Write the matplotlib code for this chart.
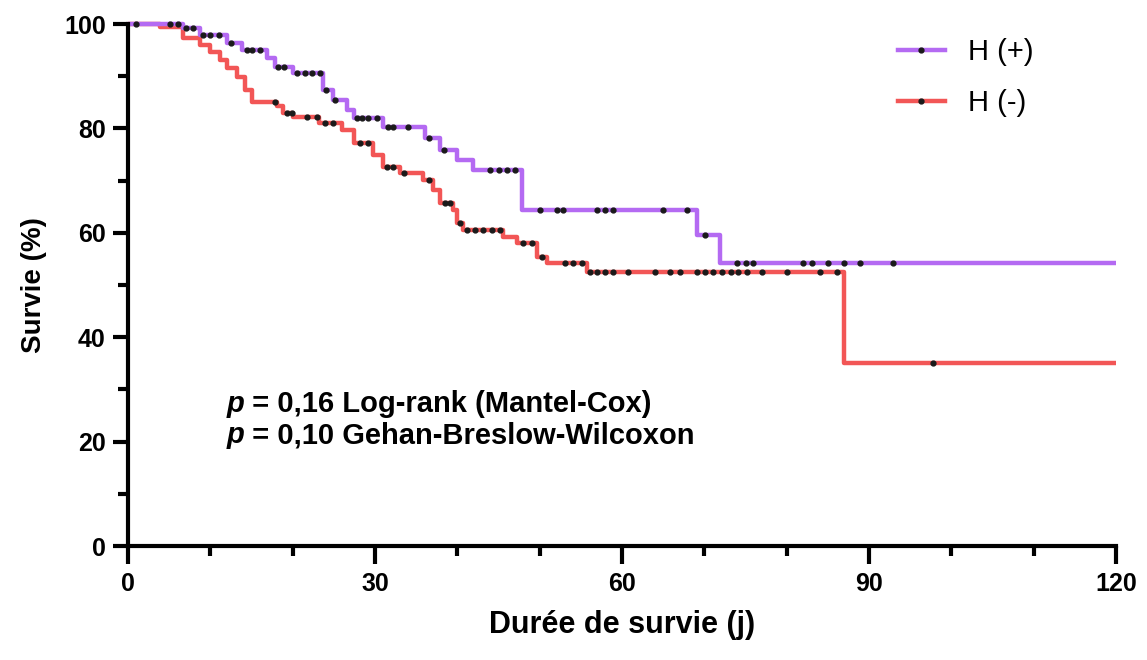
import matplotlib.pyplot as plt
from matplotlib.lines import Line2D
from matplotlib.ticker import MultipleLocator
import numpy as np

# Kaplan-Meier steps
pos_times = [0, 6.7, 8.7, 12.0, 13.9, 16.9, 17.9, 20.1, 23.7, 24.9, 26.6, 27.4,
             31.0, 36.1, 37.9, 39.9, 41.9, 47.9, 69.1, 71.9, 120]
pos_surv = [100, 99.2, 97.9, 96.3, 95.0, 93.4, 91.8, 90.6, 87.4, 85.4, 83.5, 82.0,
            80.2, 78.1, 75.9, 73.9, 72.0, 64.4, 59.6, 54.2, 54.2]
pos_censor = [1, 5.1, 6.1, 7.1, 7.9, 9.1, 10.0, 11.0, 12.5, 14.5, 15.1, 16.0,
              18.2, 19.0, 20.5, 21.5, 22.4, 23.3, 24.1, 25.1, 27.8, 28.4, 29.2,
              30.2, 31.6, 32.2, 34.0, 36.5, 38.4, 44.0, 45.0, 46.0, 47.0,
              50.0, 52.1, 52.8, 57.0, 57.9, 58.9, 65.0, 67.9, 70.1,
              74.0, 75.0, 75.9, 82.0, 83.1, 85.0, 86.9, 88.9, 92.9]

neg_times = [0, 3.9, 6.7, 8.7, 10.0, 11.2, 12.0, 13.2, 14.2, 15.0, 18.1, 18.8,
             20.1, 23.2, 26.0, 27.4, 29.8, 31.0, 33.0, 35.8, 37.0, 37.9, 39.5,
             40.0, 40.7, 45.5, 47.2, 49.7, 50.9, 55.7, 86.9, 120]
neg_surv = [100, 99.5, 97.3, 96.0, 94.7, 93.1, 91.6, 89.9, 87.4, 85.1, 84.2, 82.9,
            82.1, 81.0, 79.7, 77.2, 74.9, 72.6, 71.4, 70.1, 68.2, 65.7, 64.4,
            61.9, 60.5, 59.2, 58.0, 55.4, 54.2, 52.5, 35.1, 35.1]
neg_censor = [17.9, 19.3, 19.9, 21.7, 22.9, 23.9, 24.9, 28.2, 29.2, 31.5, 32.2,
              33.5, 36.5, 38.5, 39.1, 40.3, 41.2, 42.1, 43.1, 44.2, 45.2, 48.0,
              49.1, 50.3, 53.1, 54.1, 55.1, 56.1, 57.0, 57.9, 58.9, 60.7, 64.0,
              65.8, 67.0, 69.1, 70.1, 71.1, 72.2, 73.2, 74.1, 75.2, 77.0, 80.0,
              84.0, 86.1, 97.8]

labels = ["H (+)", "H (-)"]
stats_text = [" = 0,16 Log-rank (Mantel-Cox)", " = 0,10 Gehan-Breslow-Wilcoxon"]
purple = "#B46AF2"
red = "#F25656"


def surv_at(times, surv, t):
    idx = np.searchsorted(times, t, side="right") - 1
    return np.array(surv)[idx]


plt.rcParams['font.family'] = ['Liberation Sans', 'DejaVu Sans']

fig = plt.figure(figsize=(11.47, 6.60), dpi=100)
ax = fig.add_axes([0.1116, 0.1727, 0.8614, 0.7909])

# red first so the purple curve sits on top
for times, surv, cens, col in [(neg_times, neg_surv, neg_censor, red),
                               (pos_times, pos_surv, pos_censor, purple)]:
    ax.step(times, surv, where="post", color=col, lw=3.2, solid_capstyle="butt",
            clip_on=False)
    ax.plot(cens, surv_at(times, surv, cens), ls="none", marker="o", ms=3.5,
            color="#1a1a1a", clip_on=False)

ax.set_xlim(0, 120)
ax.set_ylim(0, 100)
ax.xaxis.set_major_locator(MultipleLocator(30))
ax.xaxis.set_minor_locator(MultipleLocator(10))
ax.yaxis.set_major_locator(MultipleLocator(20))
ax.yaxis.set_minor_locator(MultipleLocator(10))

for s in ["top", "right"]:
    ax.spines[s].set_visible(False)
for s in ["left", "bottom"]:
    ax.spines[s].set_linewidth(3)
ax.tick_params(which="major", width=3, labelsize=18)
ax.tick_params(axis="y", which="major", length=11, pad=5)
ax.tick_params(axis="x", which="major", length=13, pad=6)
ax.tick_params(which="minor", length=7, width=3)
for lab in ax.get_xticklabels() + ax.get_yticklabels():
    lab.set_fontweight("bold")

ax.set_xlabel("Durée de survie (j)", fontsize=22, fontweight="bold", labelpad=10)
ax.set_ylabel("Survie (%)", fontsize=20, fontweight="bold", labelpad=12)

for y, txt in zip([25.7, 19.7], stats_text):
    ax.text(12.0, y, "p", fontsize=21, fontweight="bold", style="italic",
            va="baseline")
    ax.annotate(txt, xy=(12.0, y), xytext=(12.4, 0), textcoords="offset points",
                fontsize=21, fontweight="bold", va="baseline")

handles = [Line2D([], [], color=c, lw=3.2, marker="o", ms=3.5, mfc="#1a1a1a",
                  mec="#1a1a1a") for c in [purple, red]]
ax.legend(handles, labels, loc="upper right", bbox_to_anchor=(0.943, 1.023),
          frameon=False, fontsize=21, handlelength=1.6, handletextpad=0.8,
          labelspacing=0.78, numpoints=1)

fig.savefig("out.png", dpi=100)
